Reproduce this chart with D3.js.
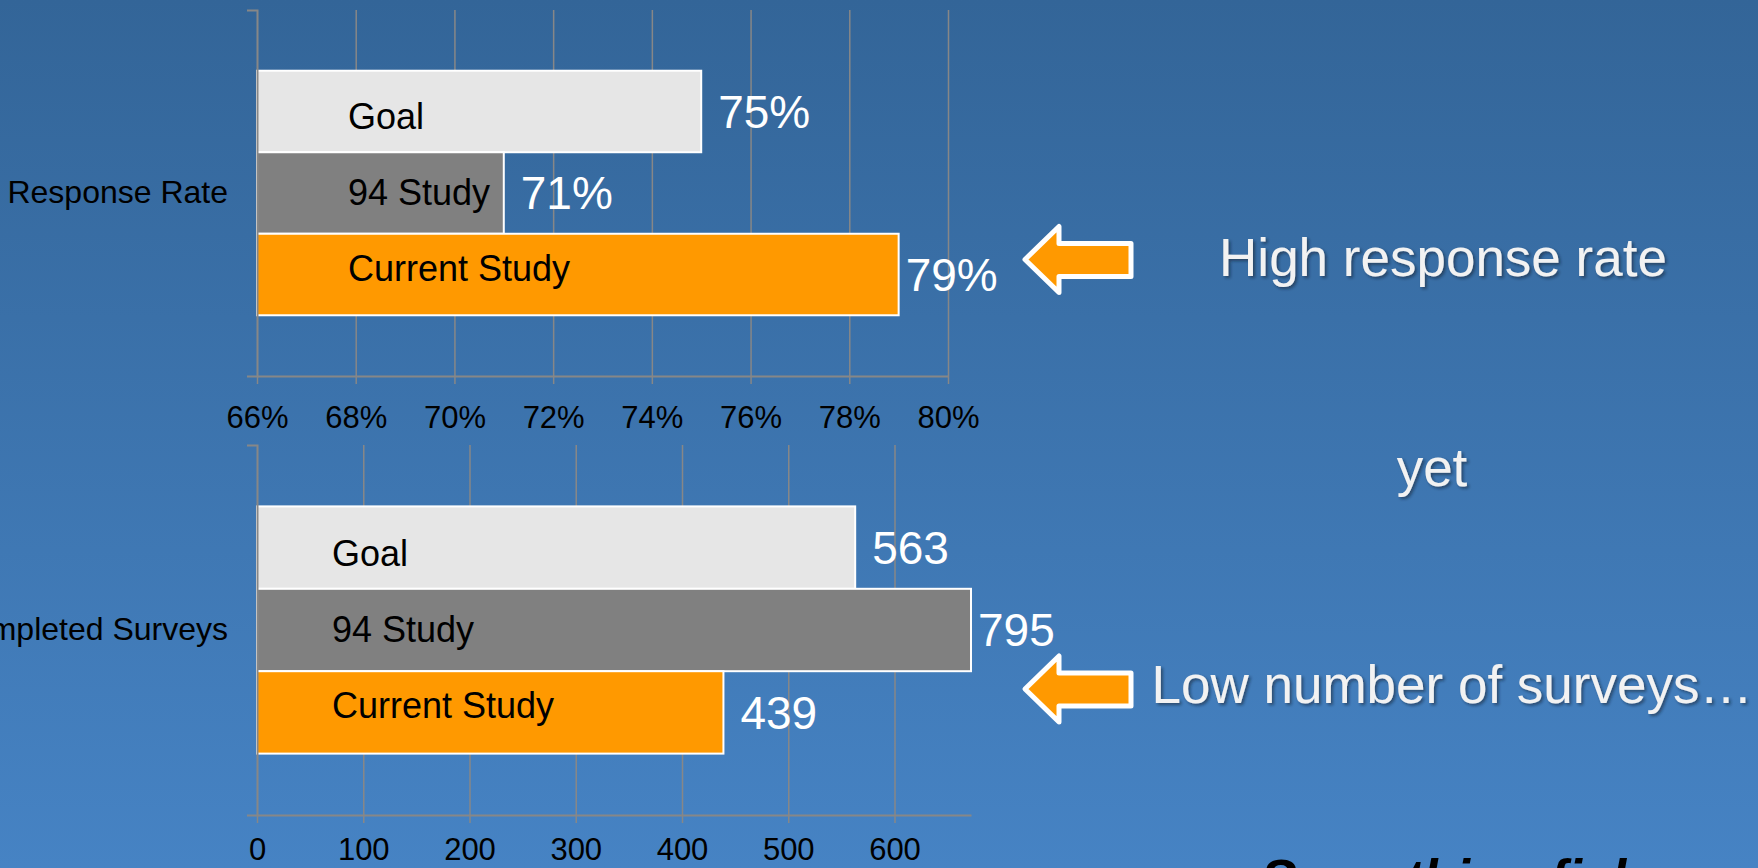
<!DOCTYPE html>
<html>
<head>
<meta charset="utf-8">
<script src="https://cdn.jsdelivr.net/npm/d3@7"></script>
<style>
  html, body { margin: 0; padding: 0; overflow: hidden; }
  svg { display: block; font-family: "Liberation Sans", Arial, sans-serif; }
</style>
</head>
<body>
<svg class="js-d3-container"></svg>
<script>
(() => {
    // data
    const categories = ['Response Rate', 'Completed Surveys'];
    const series = ['Goal', '94 Study', 'Current Study'];
    const seriesColors = ['#e6e6e6', '#808080', '#ff9900'];
    const responseRate = [0.75, 0.71, 0.79];
    const completedSurveys = [563, 795, 439];
    const rateTicks = [0.66, 0.68, 0.70, 0.72, 0.74, 0.76, 0.78, 0.80];
    const surveyTicks = [0, 100, 200, 300, 400, 500, 600];
    const rateDomain = [0.66, 0.80];
    const surveyDomain = [0, 672];
    const notes = ['High response rate', 'yet', 'Low number of surveys…'];
    const footer = 'Something fishy…';

    const svgWidth = 1758;
    const svgHeight = 868;

    const svg = d3.select('.js-d3-container')
        .attr('width', svgWidth)
        .attr('height', svgHeight);

    const defs = svg.append('defs');
    const grad = defs.append('linearGradient')
        .attr('id', 'bg')
        .attr('x1', 0).attr('y1', 0)
        .attr('x2', 0).attr('y2', 1);
    grad.append('stop').attr('offset', '0%').attr('stop-color', '#336598');
    grad.append('stop').attr('offset', '100%').attr('stop-color', '#4683c4');

    const shadow = defs.append('filter')
        .attr('id', 'shadow')
        .attr('x', '-5%').attr('y', '-20%')
        .attr('width', '110%').attr('height', '140%');
    shadow.append('feDropShadow')
        .attr('dx', 2).attr('dy', 2)
        .attr('stdDeviation', 1.5)
        .attr('flood-color', '#0b1f33')
        .attr('flood-opacity', 0.55);

    svg.append('rect')
        .attr('width', svgWidth)
        .attr('height', svgHeight)
        .attr('fill', 'url(#bg)');

    const drawPanel = (cfg) => {
        const g = svg.append('g');

        const x = d3.scaleLinear()
            .domain(cfg.domain)
            .range([cfg.left, cfg.right])
            .clamp(true); // 94 Study overflows the survey axis, cut at the edge

        const y = d3.scaleBand()
            .domain(series)
            .range([cfg.top, cfg.bottom])
            .paddingInner(0)
            .paddingOuter(0.745);

        const bw = y.bandwidth();

        // series names sit a little tighter than the bar centres
        const labelY = d3.scalePoint()
            .domain(series)
            .range([y(series[0]) + bw / 2 + 18, y(series[2]) + bw / 2 + 6]);

        // gridlines
        g.append('g')
            .attr('transform', `translate(0, ${cfg.bottom})`)
            .call(d3.axisBottom(x)
                .tickValues(cfg.ticks.slice(1))
                .tickSize(-(cfg.bottom - cfg.top))
                .tickFormat(''))
            .call(a => a.select('.domain').remove())
            .call(a => a.selectAll('line')
                .attr('stroke', '#878787')
                .attr('stroke-width', 1.5));

        // bars
        g.selectAll('.bar')
            .data(cfg.values)
            .enter().append('rect')
            .attr('class', 'bar')
            .attr('x', x(cfg.domain[0]))
            .attr('y', (d, i) => y(series[i]))
            .attr('width', d => x(d) - x(cfg.domain[0]))
            .attr('height', bw)
            .attr('fill', (d, i) => seriesColors[i])
            .attr('stroke', '#ffffff')
            .attr('stroke-width', 2);

        // series names inside the bars
        g.selectAll('.name')
            .data(series)
            .enter().append('text')
            .attr('class', 'name')
            .attr('x', x(cfg.domain[0]) + cfg.nameInset)
            .attr('y', d => labelY(d))
            .attr('font-size', 36)
            .attr('fill', '#000')
            .text(d => d);

        // value labels
        const vmax = d3.max(cfg.values);
        g.selectAll('.value')
            .data(cfg.values)
            .enter().append('text')
            .attr('class', 'value')
            .attr('x', d => x(d) + (d === vmax ? 7 : 17))
            .attr('y', (d, i) => y(series[i]) + bw / 2)
            .attr('dy', '0.35em')
            .attr('font-size', 46)
            .attr('fill', '#ffffff')
            .text(d => cfg.format(d));

        // value axis
        g.append('g')
            .attr('transform', `translate(0, ${cfg.bottom})`)
            .call(d3.axisBottom(x)
                .tickValues(cfg.ticks)
                .tickSizeInner(8)
                .tickSizeOuter(0)
                .tickPadding(cfg.tickPad)
                .tickFormat(cfg.format))
            .call(a => a.select('.domain')
                .attr('stroke', '#878787')
                .attr('stroke-width', 2))
            .call(a => a.selectAll('line')
                .attr('stroke', '#878787')
                .attr('stroke-width', 1.5))
            .call(a => a.selectAll('text')
                .attr('font-family', '"Liberation Sans", Arial, sans-serif')
                .attr('font-size', 31)
                .attr('fill', '#000'));

        // category axis (bracket with outer ticks)
        const cat = d3.scaleBand()
            .domain([cfg.category])
            .range([cfg.top, cfg.bottom]);

        g.append('g')
            .attr('transform', `translate(${cfg.left}, 0)`)
            .call(d3.axisLeft(cat)
                .tickSizeInner(0)
                .tickSizeOuter(10)
                .tickPadding(29))
            .call(a => a.select('.domain')
                .attr('stroke', '#878787')
                .attr('stroke-width', 2))
            .call(a => a.selectAll('text')
                .attr('font-family', '"Liberation Sans", Arial, sans-serif')
                .attr('font-size', 32)
                .attr('fill', '#000'));
    };

    drawPanel({
        category: categories[0],
        values: responseRate,
        domain: rateDomain,
        ticks: rateTicks,
        format: d3.format('.0%'),
        left: 257, right: 948, top: 10, bottom: 376,
        nameInset: 91,
        tickPad: 22,
    });

    drawPanel({
        category: categories[1],
        values: completedSurveys,
        domain: surveyDomain,
        ticks: surveyTicks,
        format: d3.format('d'),
        left: 257, right: 971, top: 445, bottom: 815,
        nameInset: 75,
        tickPad: 15,
    });

    // arrows pointing back at the current study bars
    const arrow = 'M0,0 L34,-33 L34,-16 L106,-16 L106,17 L34,17 L34,33 Z';
    [259.5, 689].forEach(cy => {
        svg.append('path')
            .attr('d', arrow)
            .attr('transform', `translate(1025, ${cy})`)
            .attr('fill', '#ff9900')
            .attr('stroke', '#ffffff')
            .attr('stroke-width', 5)
            .attr('stroke-linejoin', 'round');
    });

    // right side notes
    const notePos = [[1443, 276], [1432, 486], [1452, 703]];
    notes.forEach((t, i) => {
        svg.append('text')
            .attr('x', notePos[i][0])
            .attr('y', notePos[i][1])
            .attr('text-anchor', 'middle')
            .attr('font-size', 53)
            .attr('fill', '#f2f2f2')
            .attr('filter', 'url(#shadow)')
            .text(t);
    });

    svg.append('text')
        .attr('x', 1261)
        .attr('y', 897)
        .attr('font-size', 53)
        .attr('font-weight', 'bold')
        .attr('font-style', 'italic')
        .attr('fill', '#000')
        .text(footer);
})();
</script>
</body>
</html>
